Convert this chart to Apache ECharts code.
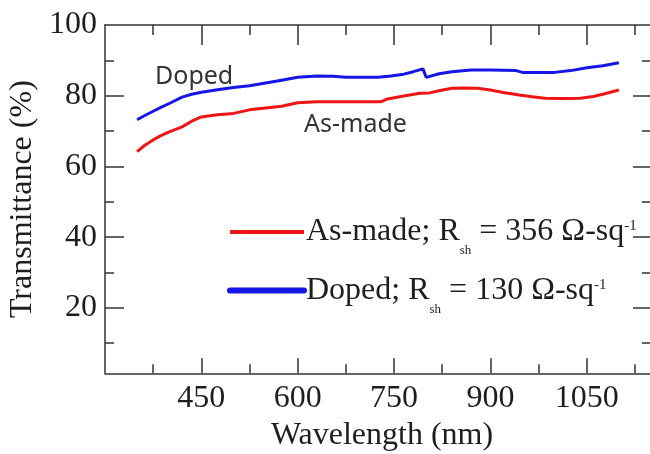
<!DOCTYPE html>
<html>
<head>
<meta charset="utf-8">
<script src="https://cdn.jsdelivr.net/npm/echarts@6/dist/echarts.min.js"></script>
<style>
html,body{margin:0;padding:0;background:#fff;overflow:hidden;width:650px;height:454px;}
#main{width:650px;height:454px;overflow:hidden;}
</style>
</head>
<body>
<div id="main"></div>
<script>
// Wavelength (nm) and transmittance (%)
var dopedWl = [350, 362, 375, 387, 400, 420, 435, 450, 475, 500, 525, 550, 575, 600, 630, 655, 675, 700, 725, 745, 765, 780, 795, 797, 800, 820, 840, 870, 900, 940, 950, 975, 1000, 1025, 1050, 1075, 1100];
var dopedT  = [73.2, 74.4, 75.6, 76.7, 77.8, 79.6, 80.4, 81.0, 81.7, 82.3, 82.8, 83.6, 84.4, 85.2, 85.6, 85.5, 85.2, 85.2, 85.2, 85.6, 86.1, 86.8, 87.6, 87.8, 85.2, 86.2, 86.8, 87.3, 87.3, 87.1, 86.6, 86.6, 86.6, 87.1, 87.9, 88.5, 89.3];
var asMadeWl = [350, 362, 375, 387, 400, 420, 435, 450, 475, 500, 525, 550, 575, 600, 630, 680, 730, 740, 765, 790, 805, 820, 840, 860, 880, 900, 920, 945, 965, 985, 1010, 1040, 1060, 1075, 1100];
var asMadeT  = [64.2, 66.0, 67.5, 68.7, 69.8, 71.2, 72.8, 74.0, 74.6, 75.0, 76.0, 76.5, 77.0, 78.0, 78.3, 78.3, 78.3, 79.1, 79.9, 80.7, 80.8, 81.4, 82.1, 82.2, 82.1, 81.6, 80.9, 80.2, 79.7, 79.3, 79.2, 79.3, 79.8, 80.4, 81.6];
var xMajorTicks = [450, 600, 750, 900, 1050];
var xMinorTicks = [375, 525, 675, 825, 975, 1125];
var yMajorTicks = [20, 40, 60, 80];
var yMinorTicks = [10, 30, 50, 70, 90];
var yLabels = [20, 40, 60, 80, 100];

function pairs(xs, ys) { return xs.map(function (x, i) { return [x, ys[i]]; }); }

var SERIF = '"Liberation Serif","Times New Roman",serif';
var AX = '#333';
var TXT = '#1e1e1e';
var XMIN = 300, XMAX = 1150, YMIN = 1.5, YMAX = 100;

function xAx(pos, ticks, len, showLine, labels) {
  return {
    type: 'value', position: pos, offset: 0, min: XMIN, max: XMAX, gridIndex: 0,
    axisLine: { show: showLine, lineStyle: { color: AX, width: 1.5 } },
    axisTick: { show: true, inside: true, length: len, customValues: ticks, lineStyle: { color: AX, width: 1.5 } },
    axisLabel: labels ? { show: true, customValues: labels, margin: 9, fontFamily: SERIF, fontSize: 32, color: TXT,
      formatter: function (v) { return String(v); } } : { show: false },
    splitLine: { show: false }
  };
}
function yAx(pos, ticks, len, showLine, labels) {
  return {
    type: 'value', position: pos, offset: 0, min: YMIN, max: YMAX, gridIndex: 0,
    axisLine: { show: showLine, lineStyle: { color: AX, width: 1.5 } },
    axisTick: { show: true, inside: true, length: len, customValues: ticks, lineStyle: { color: AX, width: 1.5 } },
    axisLabel: labels ? { show: true, customValues: labels, margin: 8, fontFamily: SERIF, fontSize: 32, color: TXT,
      formatter: function (v) { return String(v); } } : { show: false },
    splitLine: { show: false }
  };
}

var xBottom = xAx('bottom', xMajorTicks, 15, true, xMajorTicks);
xBottom.name = 'Wavelength (nm)';
xBottom.nameLocation = 'middle';
xBottom.nameGap = 44;
xBottom.nameTextStyle = { fontFamily: SERIF, fontSize: 32, color: TXT, padding: [0, 0, 0, 8] };

var yLeft = yAx('left', yMajorTicks, 19, true, yLabels);
yLeft.name = 'Transmittance (%)';
yLeft.nameLocation = 'middle';
yLeft.nameGap = 44;
yLeft.nameTextStyle = { fontFamily: SERIF, fontSize: 32, color: TXT };

var richLeg = {
  a: { fontFamily: SERIF, fontSize: 32, color: TXT, lineHeight: 50 },
  sub: { fontFamily: SERIF, fontSize: 13, color: TXT, verticalAlign: 'bottom', lineHeight: 10 },
  sup: { fontFamily: SERIF, fontSize: 15, color: TXT, verticalAlign: 'top', padding: [12, 0, 0, 0] }
};

var option = {
  backgroundColor: '#fff',
  animation: false,
  grid: { left: 105, right: -1, top: 25, bottom: 80.7, containLabel: false, outerBoundsMode: 'none' },
  xAxis: [
    xBottom,
    xAx('bottom', xMinorTicks, 9, false, null),
    xAx('top', xMajorTicks, 20, true, null),
    xAx('top', xMinorTicks, 10, false, null)
  ],
  yAxis: [
    yLeft,
    yAx('left', yMinorTicks, 9, false, null),
    yAx('right', yMajorTicks, 18, false, null),
    yAx('right', yMinorTicks, 9, false, null)
  ],
  legend: {
    orient: 'vertical', left: 222, top: 211, itemGap: 17.6, itemWidth: 74, itemHeight: 14,
    data: [
      { name: 'asmade', lineStyle: { color: '#f01515', width: 4 }, itemStyle: { opacity: 0 } },
      { name: 'doped', lineStyle: { color: '#1515e6', width: 6, cap: 'round' }, itemStyle: { opacity: 0 } }
    ],
    formatter: function (n) {
      if (n === 'asmade') return '{a|As-made; R}{sub|sh}{a| = 356 Ω-sq}{sup|-1}';
      return '{a|Doped; R}{sub|sh}{a| = 130 Ω-sq}{sup|-1}';
    },
    textStyle: { rich: richLeg, padding: [0, 0, 0, -3] }
  },
  graphic: [
    { type: 'text', left: 155, top: 64, style: { text: 'Doped', font: '25px "Noto Sans", sans-serif', fill: '#333' } },
    { type: 'text', left: 304, top: 112, style: { text: 'As-made', font: '25px "Noto Sans", sans-serif', fill: '#333' } }
  ],
  series: [
    { name: 'asmade', type: 'line', xAxisIndex: 0, yAxisIndex: 0, showSymbol: false, symbol: 'none',
      data: pairs(asMadeWl, asMadeT), lineStyle: { color: '#f01515', width: 3 }, itemStyle: { color: '#f01515' } },
    { name: 'doped', type: 'line', xAxisIndex: 0, yAxisIndex: 0, showSymbol: false, symbol: 'none',
      data: pairs(dopedWl, dopedT), lineStyle: { color: '#1515e6', width: 3 }, itemStyle: { color: '#1515e6' } }
  ]
};
var chart = echarts.init(document.getElementById('main'), null, { renderer: 'canvas' });
chart.setOption(option);
</script>
</body>
</html>
